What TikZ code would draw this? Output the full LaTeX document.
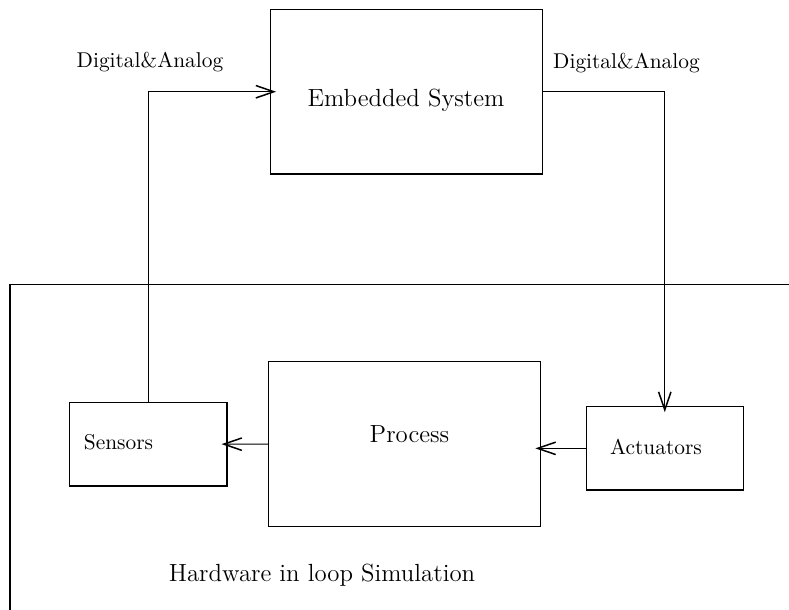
\documentclass[tikz,border=0pt]{standalone}
\usetikzlibrary{arrows.meta,calc}
\begin{document}
\begin{tikzpicture}[x=0.5pt,y=-0.5pt,
  box/.style={draw,rectangle,inner sep=0pt,line width=0.55pt},
  small/.style={font=\fontsize{10.7}{13}\selectfont,inner sep=0pt},
  big/.style={font=\fontsize{12.4}{15}\selectfont,inner sep=0pt},
  link/.style={line width=0.55pt,-{Straight Barb[length=9pt,width=6.2pt,line width=0.75pt]}},
  frame/.style={line width=0.55pt}]
\useasboundingbox (0,0) rectangle (789,610);

% blocks
\node[box,minimum width=136pt,minimum height=82.25pt] (es) at (406.7,91.75) {};
\node[box,minimum width=135.8pt,minimum height=82.5pt] (proc) at (404.5,444.2) {};
\node[box,minimum width=78.65pt,minimum height=41.85pt] (sens) at (148.35,444.15) {};
\node[box,minimum width=78.5pt,minimum height=41.65pt] (act) at (664.8,448.35) {};

% block captions
\node[big] (estext) at (406,100) {Embedded System};
\node[big] (proctext) at (409.5,434) {Process};
\node[small] (senstext) at (118.5,442) {Sensors};
\node[small] (acttext) at (656,447) {Actuators};

% signal labels
\node[small] (dal) at (150,62) {Digital\&Analog};
\node[small] (dar) at (626.5,63) {Digital\&Analog};

% simulation boundary
\coordinate (fbl) at (10,610);
\coordinate (ftl) at (10,284.3);
\coordinate (ftr) at (789,284.3);
\draw[frame] (fbl) -- (ftl) -- (ftr);
\node[big] (hil) at (322,575) {Hardware in loop Simulation};

% signal flow
\draw[link] (sens.north) |- ([xshift=3pt]es.west);
\draw[link] (es.east) -| ([yshift=-3pt]act.north);
\draw[link] (proc.west) -- ([xshift=-3pt]sens.east);
\draw[link] (act.west) -- ($(act.west -| proc.east)+(-5.5,0)$);
\end{tikzpicture}
\end{document}
